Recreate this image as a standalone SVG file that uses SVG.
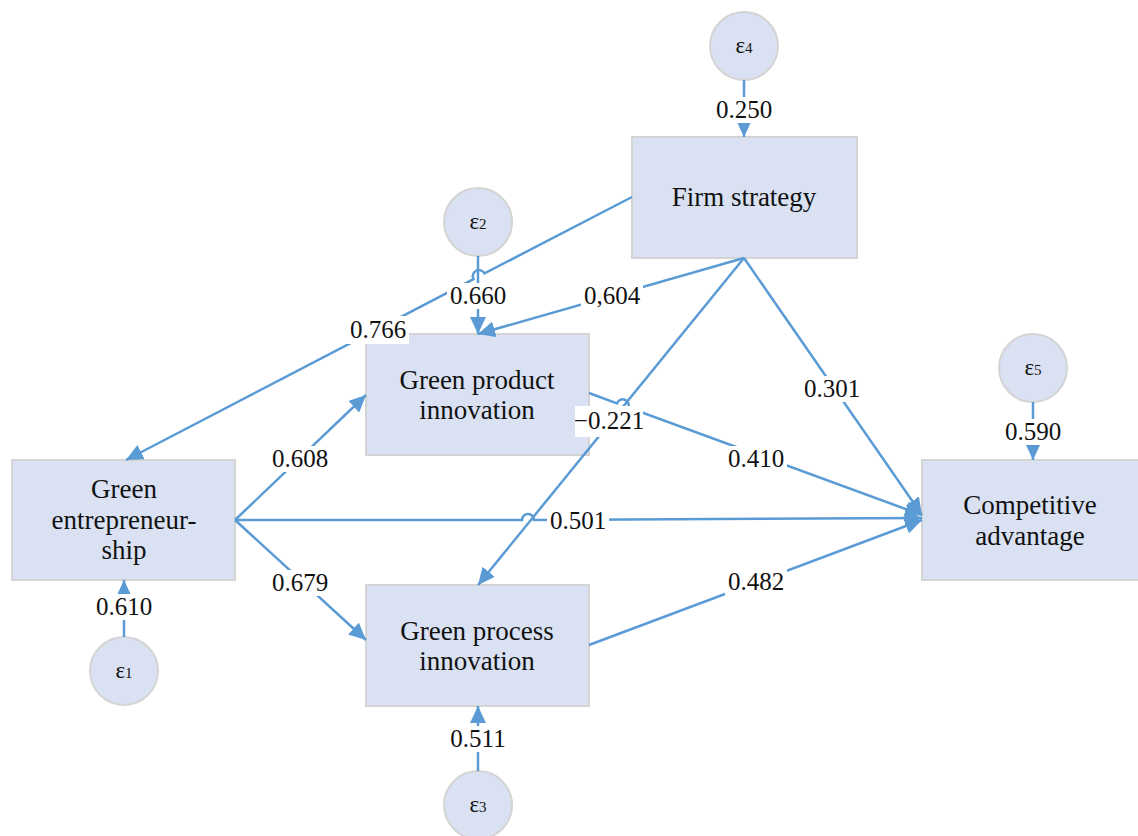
<svg xmlns="http://www.w3.org/2000/svg" width="1138" height="836" viewBox="0 0 1138 836">
<style>
.box{fill:#D9E1F2;stroke:#D4D4D4;stroke-width:2}
.err{fill:#D9E1F2;stroke:#D4D4D4;stroke-width:2}
.ntx{font-family:"Liberation Serif",serif;font-size:27px;fill:#111;text-anchor:middle}
.etx{font-family:"Liberation Serif",serif;font-size:23px;fill:#111;text-anchor:middle}
.sub{font-size:15px}
.ln{fill:none;stroke:#5B9BD5;stroke-width:2.5}
.lbg{fill:#FFFFFF}
.lbl{font-family:"Liberation Serif",serif;font-size:25px;fill:#111;text-anchor:middle}
</style>
<defs>
<marker id="ah" markerUnits="userSpaceOnUse" markerWidth="18" markerHeight="16" refX="17" refY="8" orient="auto">
<path d="M0,0 L17,8 L0,16 z" fill="#5B9BD5"/>
</marker>
</defs>
<rect width="1138" height="836" fill="#FFFFFF"/>

<g id="ge"><rect class="box" x="12" y="460" width="223" height="120"/>
<text class="ntx" x="124" y="498">Green</text><text class="ntx" x="124" y="529">entrepreneur-</text><text class="ntx" x="124" y="559">ship</text></g>
<g id="gpi"><rect class="box" x="366" y="334" width="223" height="121"/>
<text class="ntx" x="477" y="389">Green product</text><text class="ntx" x="477" y="419">innovation</text></g>
<g id="gpri"><rect class="box" x="366" y="585" width="223" height="121"/>
<text class="ntx" x="477" y="640">Green process</text><text class="ntx" x="477" y="670">innovation</text></g>
<g id="fs"><rect class="box" x="632" y="137" width="225" height="121"/>
<text class="ntx" x="744" y="206">Firm strategy</text></g>
<g id="ca"><rect class="box" x="922" y="460" width="218" height="120"/>
<text class="ntx" x="1030" y="514">Competitive</text><text class="ntx" x="1030" y="545">advantage</text></g>

<g id="e1"><circle class="err" cx="124" cy="671" r="34"/><text class="etx" x="124" y="678">ε<tspan class="sub">1</tspan></text></g>
<g id="e2"><circle class="err" cx="478" cy="222" r="34"/><text class="etx" x="478" y="229">ε<tspan class="sub">2</tspan></text></g>
<g id="e3"><circle class="err" cx="478" cy="805" r="34"/><text class="etx" x="478" y="812">ε<tspan class="sub">3</tspan></text></g>
<g id="e4"><circle class="err" cx="744" cy="46" r="34"/><text class="etx" x="744" y="53">ε<tspan class="sub">4</tspan></text></g>
<g id="e5"><circle class="err" cx="1033" cy="368" r="34"/><text class="etx" x="1033" y="375">ε<tspan class="sub">5</tspan></text></g>

<g id="connectors">
<path class="ln" marker-end="url(#ah)" d="M744,80 L744,137"/>
<path class="ln" marker-end="url(#ah)" d="M478,256 L478,334"/>
<path class="ln" marker-end="url(#ah)" d="M1033,402 L1033,460"/>
<path class="ln" marker-end="url(#ah)" d="M124,637 L124,580"/>
<path class="ln" marker-end="url(#ah)" d="M478,771 L478,706"/>
<path class="ln" marker-end="url(#ah)" d="M632,197 L484.5,273.4 A6,6 0 0 0 473.5,279.1 L126,460"/>
<path class="ln" marker-end="url(#ah)" d="M744,258 L478,334"/>
<path class="ln" marker-end="url(#ah)" d="M744,258 L478,585"/>
<path class="ln" marker-end="url(#ah)" d="M744,258 L922,515"/>
<path class="ln" marker-end="url(#ah)" d="M589,393 L617,403.3 A6,6 0 0 1 628.3,407.5 L922,515"/>
<path class="ln" marker-end="url(#ah)" d="M235,520 L366,395"/>
<path class="ln" marker-end="url(#ah)" d="M235,520 L366,640"/>
<path class="ln" marker-end="url(#ah)" d="M235,520 L522,520 A6,6 0 0 1 534,520 L922,518"/>
<path class="ln" marker-end="url(#ah)" d="M589,645 L922,520"/>
</g>

<g id="labels">
<rect class="lbg" x="713" y="97" width="62" height="26"/><text class="lbl" x="744" y="118">0.250</text>
<rect class="lbg" x="447" y="283" width="62" height="26"/><text class="lbl" x="478" y="304">0.660</text>
<rect class="lbg" x="581" y="283" width="62" height="26"/><text class="lbl" x="612" y="304">0,604</text>
<rect class="lbg" x="347" y="316" width="62" height="28"/><text class="lbl" x="378" y="338">0.766</text>
<rect class="lbg" x="575" y="406" width="68" height="31"/><text class="lbl" x="609" y="429">−0.221</text>
<rect class="lbg" x="801" y="376" width="62" height="26"/><text class="lbl" x="832" y="397">0.301</text>
<rect class="lbg" x="725" y="446" width="62" height="26"/><text class="lbl" x="756" y="467">0.410</text>
<rect class="lbg" x="269" y="446" width="62" height="26"/><text class="lbl" x="300" y="467">0.608</text>
<rect class="lbg" x="269" y="570" width="62" height="26"/><text class="lbl" x="300" y="591">0.679</text>
<rect class="lbg" x="547" y="508" width="62" height="26"/><text class="lbl" x="578" y="529">0.501</text>
<rect class="lbg" x="725" y="569" width="62" height="26"/><text class="lbl" x="756" y="590">0.482</text>
<rect class="lbg" x="1002" y="419" width="62" height="26"/><text class="lbl" x="1033" y="440">0.590</text>
<rect class="lbg" x="93" y="594" width="62" height="26"/><text class="lbl" x="124" y="615">0.610</text>
<rect class="lbg" x="447" y="726" width="62" height="26"/><text class="lbl" x="478" y="747">0.511</text>
</g>
</svg>
